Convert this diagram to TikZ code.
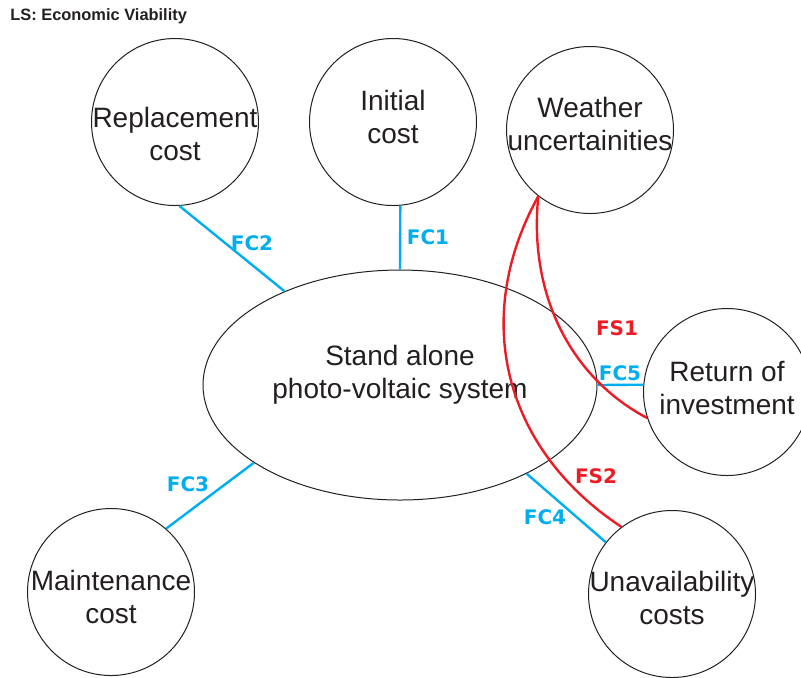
\documentclass[tikz,border=0pt]{standalone}
\usepackage{fontspec}
\setmainfont{Liberation Sans}
\newfontfamily\etiqfont{DejaVu Sans}
\usetikzlibrary{shapes.geometric}
\definecolor{encre}{RGB}{35,31,32}
\definecolor{lienfc}{RGB}{0,174,239}
\definecolor{lienfs}{RGB}{237,28,36}
\tikzset{
  bulle/.style={circle,draw=encre,line width=0.5pt,minimum size=83.5pt,inner sep=0pt},
  systeme/.style={ellipse,draw=encre,line width=0.5pt,minimum width=197pt,minimum height=115pt,inner sep=0pt},
  texte/.style={text=encre,font=\fontsize{14}{16.5}\selectfont,align=center,inner sep=0pt},
  lienc/.style={lienfc,line width=1.2pt},
  liens/.style={lienfs,line width=1.2pt},
  etiq/.style={font=\etiqfont\bfseries\fontsize{10}{12}\selectfont,inner sep=0pt},
}

\begin{document}
\begin{tikzpicture}[x=0.5pt,y=-0.5pt]
  \useasboundingbox (0,0) rectangle (801,677);
  \node[anchor=west,text=encre,inner sep=0pt,font=\bfseries\fontsize{8.2}{10}\selectfont] (titre) at (10,16) {LS: Economic Viability};
  % systeme central
  \node[systeme,label={[texte,yshift=5pt]center:Stand alone\\photo-voltaic system}] (pv) at (400,385) {};
  % les bulles
  \node[bulle,label={[texte,yshift=-6pt]center:Replacement\\cost}] (remp) at (175,122) {};
  \node[bulle,label={[texte,yshift=2.5pt]center:Initial\\cost}] (init) at (393,122) {};
  \node[bulle,label={[texte,yshift=3pt]center:Weather\\uncertainities}] (meteo) at (590,130) {};
  \node[bulle,label={[texte,yshift=2.25pt]center:Return of\\investment}] (retour) at (727,392) {};
  \node[bulle,label={[texte,yshift=-1.75pt]center:Unavailability\\costs}] (indispo) at (672,594) {};
  \node[bulle,label={[texte,yshift=-2.5pt]center:Maintenance\\cost}] (maint) at (111,592) {};
  % liens FC
  \draw[lienc] (init.-85) -- (pv.north);
  \draw[lienc] (remp.-87) -- (pv);
  \draw[lienc] (pv.208) -- (maint.49);
  \draw[lienc] (pv.-35) -- (indispo.142);
  \draw[lienc] (pv.east) -- (retour.175);
  % liens FS
  \draw[liens] (meteo.232) .. controls (528,300) and (575,380) .. (retour.198);
  \draw[liens] (meteo.232) .. controls (470,320) and (505,450) .. (indispo.127);
  % etiquettes
  \node[etiq,text=lienfc] (fc1) at (428,237) {FC1};
  \node[etiq,text=lienfc] (fc2) at (252,243) {FC2};
  \node[etiq,text=lienfc] (fc3) at (188,484) {FC3};
  \node[etiq,text=lienfc] (fc4) at (545,517) {FC4};
  \node[etiq,text=lienfc] (fc5) at (620,373) {FC5};
  \node[etiq,text=lienfs] (fs1) at (617,328) {FS1};
  \node[etiq,text=lienfs] (fs2) at (596,476) {FS2};
\end{tikzpicture}
\end{document}
